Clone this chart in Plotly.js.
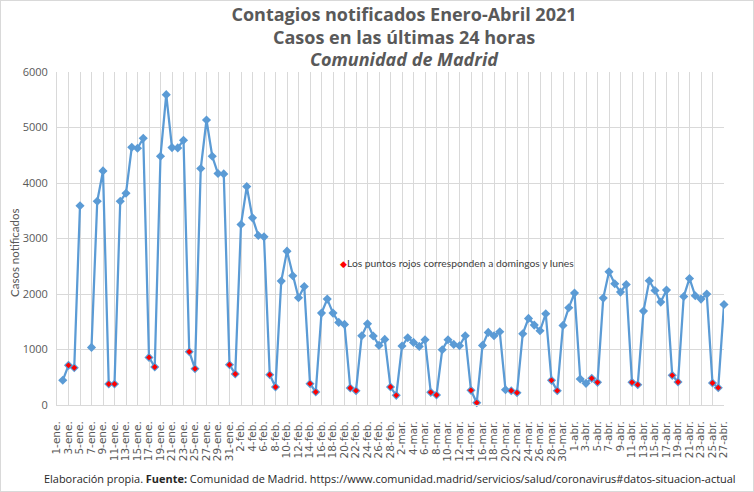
<!DOCTYPE html>
<html>
<head>
<meta charset="utf-8">
<script src="https://cdn.plot.ly/plotly-3.0.1.min.js"></script>
<style>
  html, body { margin: 0; padding: 0; background: #ffffff; }
  #chart { width: 752px; height: 490px; border: 1px solid #d9d9d9; }
</style>
</head>
<body>
<div id="chart"></div>
<script>
// Category labels: days from 1-ene. to 27-abr. 2021
const monthNames = ["ene.", "feb.", "mar.", "abr."];
const monthDays = [31, 28, 31, 27];
const categories = [];
monthNames.forEach((m, i) => { for (let d = 1; d <= monthDays[i]; d++) categories.push(d + "-" + m); });

// Daily cases (null = no report)
const casos = [
  null, 445, 714, 672, 3590, null, 1038, 3672, 4218, 378,
  378, 3672, 3816, 4644, 4626, 4806, 858, 684, 4482, 5592,
  4638, 4632, 4770, 960, 654, 4260, 5136, 4482, 4170, 4164,
  726, 558, 3252, 3936, 3372, 3054, 3030, 546, 324, 2232,
  2772, 2328, 1932, 2136, 384, 234, 1656, 1908, 1656, 1488,
  1452, 306, 258, 1248, 1464, 1242, 1074, 1182, 324, 174,
  1062, 1212, 1128, 1056, 1176, 228, 180, 996, 1176, 1092,
  1068, 1248, 264, 42, 1074, 1308, 1248, 1320, 276, 258,
  222, 1284, 1560, 1440, 1338, 1644, 444, 258, 1434, 1752,
  2016, 468, 390, 480, 408, 1926, 2400, 2184, 2034, 2172,
  408, 366, 1692, 2238, 2064, 1854, 2070, 534, 414, 1956,
  2280, 1968, 1908, 1998, 396, 312, 1812
];

// Days shown in red (Sundays and Mondays)
const diasRojos = [
  "3-ene.", "4-ene.", "10-ene.", "11-ene.", "17-ene.", "18-ene.", "24-ene.", "25-ene.", "31-ene.",
  "1-feb.", "7-feb.", "8-feb.", "14-feb.", "15-feb.", "21-feb.", "22-feb.", "28-feb.",
  "1-mar.", "7-mar.", "8-mar.", "14-mar.", "15-mar.", "21-mar.", "22-mar.", "28-mar.", "29-mar.",
  "4-abr.", "5-abr.", "11-abr.", "12-abr.", "18-abr.", "19-abr.", "25-abr.", "26-abr."
];

const titleLines = ["Contagios notificados Enero-Abril 2021", "Casos en las últimas 24 horas", "Comunidad de Madrid"];
const legendText = "Los puntos rojos corresponden a domingos y lunes";
const yTitle = "Casos notificados";
const footer = "Elaboración propia. <b>Fuente:</b> Comunidad de Madrid. https://www.comunidad.madrid/servicios/salud/coronavirus#datos-situacion-actual";

const tickVals = categories.filter((c, i) => i % 2 === 0);

const redX = [], redY = [];
diasRojos.forEach(d => { const i = categories.indexOf(d); if (i >= 0 && casos[i] !== null) { redX.push(d); redY.push(casos[i]); } });

const W = 752, H = 490;
const M = { l: 56, r: 29, t: 71, b: 86 };
const pw = W - M.l - M.r, ph = H - M.t - M.b;
const px = x => (x - 1 - M.l) / pw;
const py = y => (H - M.b - (y - 1)) / ph;

const gray = "#595959";
const font = "Open Sans, sans-serif";

const traces = [
  {
    type: "scatter", mode: "lines+markers", x: categories, y: casos,
    connectgaps: false, cliponaxis: false,
    line: { color: "#5b9bd5", width: 2.25 },
    marker: { symbol: "diamond", size: 7, color: "#5b9bd5" },
    showlegend: false, hoverinfo: "x+y"
  },
  {
    type: "scatter", mode: "markers", x: redX, y: redY,
    cliponaxis: false,
    marker: { symbol: "diamond", size: 4.5, color: "#ff0000" },
    name: legendText,
    showlegend: false, hoverinfo: "x+y"
  }
];

const titleFont = { family: font, size: 18, color: gray };

const layout = {
  width: W, height: H,
  margin: M,
  paper_bgcolor: "#ffffff", plot_bgcolor: "#ffffff",
  font: { family: font, color: gray, size: 11 },
  title: {
    text: "<b>" + titleLines[0] + "</b>",
    font: titleFont,
    x: px(404), xanchor: "center", xref: "paper",
    y: 1 - 14 / H, yanchor: "middle", yref: "container"
  },
  xaxis: {
    type: "category",
    categoryorder: "array", categoryarray: categories,
    range: [0, categories.length - 1],
    tickmode: "array", tickvals: tickVals, ticktext: tickVals,
    tickangle: -90,
    tickfont: { family: "DejaVu Sans, sans-serif", size: 10.5, color: gray },
    ticklabelstandoff: 11,
    showgrid: true, gridcolor: "#d9d9d9", gridwidth: 1,
    showline: true, linecolor: "#d9d9d9", linewidth: 1,
    ticks: "", zeroline: false, automargin: false,
    fixedrange: true
  },
  yaxis: {
    range: [0, 6000], dtick: 1000,
    tickfont: { family: font, size: 11, color: gray },
    showgrid: true, gridcolor: "#d9d9d9", gridwidth: 1,
    showline: true, linecolor: "#d9d9d9", linewidth: 1,
    ticks: "", zeroline: false, automargin: false,
    ticklabelstandoff: 6,
    fixedrange: true
  },
  annotations: [
    {
      text: "<b>" + titleLines[1] + "</b>",
      xref: "paper", yref: "paper", x: px(404), y: py(37),
      xanchor: "center", yanchor: "middle", showarrow: false,
      font: titleFont
    },
    {
      text: "<b><i>" + titleLines[2] + "</i></b>",
      xref: "paper", yref: "paper", x: px(404), y: py(59),
      xanchor: "center", yanchor: "middle", showarrow: false,
      font: titleFont
    },
    {
      text: yTitle, textangle: -90,
      xref: "paper", yref: "paper", x: px(14), y: py(253),
      xanchor: "center", yanchor: "middle", showarrow: false,
      font: { family: "Lato, sans-serif", size: 11.5, color: gray }
    },
    {
      text: "<span style='color:#ff0000;font-size:9px'>◆</span>" + legendText,
      xref: "paper", yref: "paper", x: px(338), y: py(263),
      xanchor: "left", yanchor: "middle", showarrow: false,
      font: { family: "Lato, sans-serif", size: 10.3, color: "#404040" }
    },
    {
      text: footer,
      xref: "paper", yref: "paper", x: px(42), y: py(478),
      xanchor: "left", yanchor: "middle", showarrow: false,
      font: { family: font, size: 10.95, color: "#262626" }
    }
  ]
};

Plotly.newPlot("chart", traces, layout, { displayModeBar: false });
</script>
</body>
</html>
